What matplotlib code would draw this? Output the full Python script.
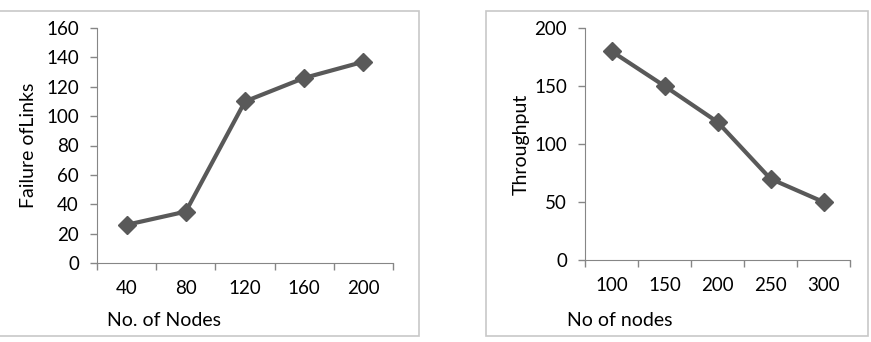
import matplotlib.pyplot as plt
from matplotlib.patches import Rectangle

plt.rcParams['font.family'] = ['Lato', 'DejaVu Sans']

nodes_a = ["40", "80", "120", "160", "200"]
failures = [26, 35, 110, 126, 137]

nodes_b = ["100", "150", "200", "250", "300"]
throughput = [180, 150, 119, 70, 50]

W, H = 871, 342
fig = plt.figure(figsize=(W / 100, H / 100), dpi=100)

# panel frames
for x0, x1 in [(-2, 419), (486, 868)]:
    fig.patches.append(Rectangle((x0 / W, 1 - 336 / H), (x1 - x0) / W, (336 - 11) / H,
                                 transform=fig.transFigure, fill=False,
                                 edgecolor="#c8c8c8", linewidth=1.2))


def panel(left, right, top, bottom, cats, vals, ymax, ystep, xlabel, ylabel, ylab_x, xlab_x):
    ax = fig.add_axes([left / W, 1 - bottom / H, (right - left) / W, (bottom - top) / H])
    x = range(len(cats))
    ax.plot(x, vals, color="#595959", linewidth=3, marker="D", markersize=9,
            markeredgecolor="#595959", markerfacecolor="#595959")
    ax.set_xlim(-0.5, len(cats) - 0.5)
    ax.set_ylim(0, ymax)
    ax.set_yticks(range(0, ymax + 1, ystep))
    ax.set_xticks([i - 0.5 for i in range(len(cats) + 1)], minor=False)
    ax.set_xticklabels([])
    ax.set_xticks(list(x), minor=True)
    ax.set_xticklabels(cats, minor=True)
    ax.tick_params(axis="x", which="minor", length=0, pad=12, labelsize=13.5)
    ax.tick_params(axis="x", which="major", length=5, color="#868686", width=1)
    ax.tick_params(axis="y", length=5, color="#868686", width=1, labelsize=13.5, pad=8)
    for s in ["top", "right"]:
        ax.spines[s].set_visible(False)
    for s in ["left", "bottom"]:
        ax.spines[s].set_color("#868686")
    fig.text(ylab_x / W, 1 - (top + bottom) / 2 / H, ylabel, rotation=90,
             ha="center", va="center", fontsize=14)
    fig.text(xlab_x / W, 1 - 321 / H, xlabel, ha="left", va="center", fontsize=14)
    return ax


panel(97, 393, 28, 263, nodes_a, failures, 160, 20, "No. of Nodes", "Failure ofLinks", 28, 107)
panel(585, 850, 28, 260, nodes_b, throughput, 200, 50, "No of nodes", "Throughput", 521, 567)

fig.savefig("out.png", dpi=100)
